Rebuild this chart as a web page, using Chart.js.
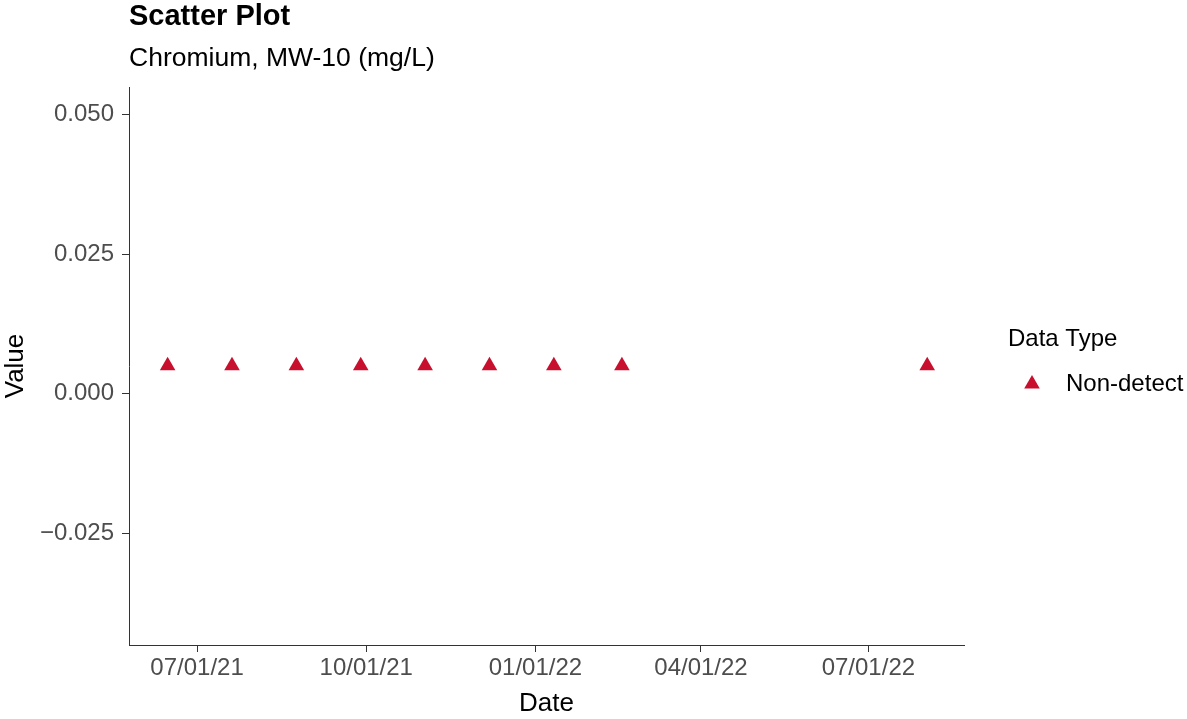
<!DOCTYPE html>
<html>
<head>
<meta charset="utf-8">
<script src="https://cdn.jsdelivr.net/npm/chart.js@4/dist/chart.umd.min.js"></script>
<style>
  html, body { margin: 0; padding: 0; background: #fff; }
  #wrap { width: 1187px; height: 719px; position: relative; }
</style>
</head>
<body>
<div id="wrap"><canvas id="c" width="1187" height="719"></canvas></div>
<script>
// ---- data ----
const sampleDates = ['2021-06-15','2021-07-20','2021-08-24','2021-09-28','2021-11-02','2021-12-07','2022-01-11','2022-02-17','2022-08-02'];
const nonDetectValues = [0.005,0.005,0.005,0.005,0.005,0.005,0.005,0.005,0.005];
const xTickDates = ['2021-07-01','2021-10-01','2022-01-01','2022-04-01','2022-07-01'];
const xTickLabels = ['07/01/21','10/01/21','01/01/22','04/01/22','07/01/22'];
const yTickValues = [-0.025, 0, 0.025, 0.05];
const yTickLabels = ['\u22120.025','0.000','0.025','0.050'];
const xRangeDates = ['2021-05-25','2022-08-22'];
const yRange = [-0.04495, 0.05489];
const seriesName = 'Non-detect';
const legendTitle = 'Data Type';
const chartTitle = 'Scatter Plot';
const chartSubtitle = 'Chromium, MW-10 (mg/L)';

const toDay = s => { const [y,m,d] = s.split('-').map(Number); return Date.UTC(y, m-1, d) / 86400000; };

const RED = '#C8102E';
const FONT = '"Liberation Sans", Arial, sans-serif';

const headerPlugin = {
  id: 'header',
  afterDraw(chart) {
    const ctx = chart.ctx;
    const left = chart.chartArea.left;
    ctx.save();
    ctx.fillStyle = '#000';
    ctx.textAlign = 'left';
    ctx.textBaseline = 'middle';
    ctx.font = 'bold 29px ' + FONT;
    ctx.fillText(chartTitle, left, 17);
    ctx.font = '26.5px ' + FONT;
    ctx.fillText(chartSubtitle, left, 59);
    // legend
    ctx.font = '24px ' + FONT;
    ctx.fillText(legendTitle, 1008, 339);
    ctx.font = '24px ' + FONT;
    ctx.fillText(seriesName, 1066, 384);
    const r = 9, cx = 1032, cy = 384;
    ctx.fillStyle = RED;
    ctx.beginPath();
    for (let i = 0; i < 3; i++) {
      const a = i * 2 * Math.PI / 3;
      const px = cx + Math.sin(a) * r, py = cy - Math.cos(a) * r;
      if (i === 0) ctx.moveTo(px, py); else ctx.lineTo(px, py);
    }
    ctx.closePath();
    ctx.fill();
    ctx.restore();
  }
};

new Chart(document.getElementById('c'), {
  type: 'scatter',
  data: {
    datasets: [{
      label: seriesName,
      data: sampleDates.map((d, i) => ({ x: toDay(d), y: nonDetectValues[i] })),
      pointStyle: 'triangle',
      pointRadius: 9,
      pointHoverRadius: 9,
      pointBorderWidth: 0,
      backgroundColor: RED,
      borderColor: RED
    }]
  },
  options: {
    responsive: false,
    animation: false,
    devicePixelRatio: 1,
    layout: { padding: { top: 87, right: 223, left: 0, bottom: 0 } },
    plugins: { legend: { display: false }, tooltip: { enabled: false }, title: { display: false } },
    scales: {
      x: {
        type: 'linear',
        min: toDay(xRangeDates[0]),
        max: toDay(xRangeDates[1]),
        afterBuildTicks(scale) { scale.ticks = xTickDates.map(d => ({ value: toDay(d) })); },
        afterFit(scale) { scale.height = 74; },
        grid: { display: true, drawOnChartArea: false, tickLength: 7, tickColor: '#333', tickWidth: 1 },
        border: { display: true, color: '#333', width: 1 },
        ticks: {
          color: '#4D4D4D', font: { family: FONT, size: 24 }, padding: 2, maxRotation: 0, autoSkip: false,
          callback(v) { const i = xTickDates.findIndex(d => toDay(d) === v); return i >= 0 ? xTickLabels[i] : ''; }
        },
        title: { display: true, text: 'Date', color: '#000', font: { family: FONT, size: 26 }, padding: { top: 0, bottom: 0 } }
      },
      y: {
        type: 'linear',
        min: yRange[0],
        max: yRange[1],
        afterBuildTicks(scale) { scale.ticks = yTickValues.map(v => ({ value: v })); },
        afterFit(scale) { scale.width = 129; },
        grid: { display: true, drawOnChartArea: false, tickLength: 7, tickColor: '#333', tickWidth: 1 },
        border: { display: true, color: '#333', width: 1 },
        ticks: {
          color: '#4D4D4D', font: { family: FONT, size: 24 }, padding: 8, autoSkip: false,
          callback(v) { const i = yTickValues.findIndex(t => Math.abs(t - v) < 1e-9); return i >= 0 ? yTickLabels[i] : ''; }
        },
        title: { display: true, text: 'Value', color: '#000', font: { family: FONT, size: 26 }, padding: { top: 0, bottom: 0 } }
      }
    }
  },
  plugins: [headerPlugin]
});
</script>
</body>
</html>
